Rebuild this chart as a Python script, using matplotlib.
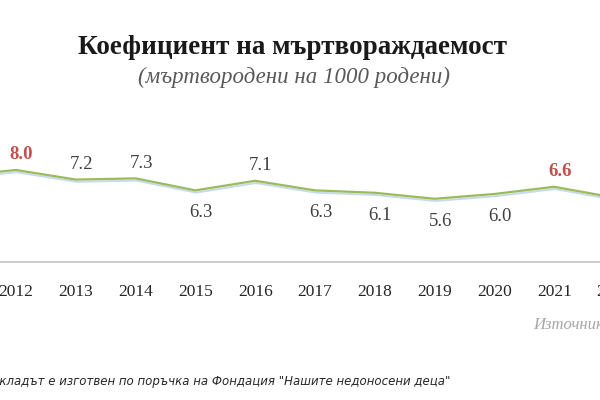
import numpy as np
import matplotlib.pyplot as plt
import matplotlib.patheffects as pe

# Data (2011 and 2022 are cut off by the crop)
years = [2011, 2012, 2013, 2014, 2015, 2016, 2017, 2018, 2019, 2020, 2021, 2022]
rate = [7.5, 8.0, 7.2, 7.3, 6.3, 7.1, 6.3, 6.1, 5.6, 6.0, 6.6, 5.7]
label_side = ['up', 'up', 'up', 'up', 'down', 'up', 'down', 'down', 'down', 'down', 'up', 'down']
red_years = [2012, 2021]

title = 'Коефициент на мъртвораждаемост'
subtitle = '(мъртвородени на 1000 родени)'
source = 'Източник: НСИ'
footer = 'Докладът е изготвен по поръчка на Фондация "Нашите недоносени деца"'

serif = ['Liberation Serif', 'DejaVu Serif']

fig = plt.figure(figsize=(6, 4), dpi=100)
# the reference is a crop, so the axes run past both figure edges
ax = fig.add_axes([-0.1, 0.345, 1.2, 0.405])
ax.set_xlim(2010.729, 2022.769)
ax.set_ylim(0.333, 13.83)

ax.plot(years, rate, color='#9BBB59', lw=1.6, solid_capstyle='round',
        path_effects=[pe.SimpleLineShadow(offset=(0.5, -1.6), shadow_color='#c6d9f0', alpha=1.0, linewidth=1.4),
                      pe.Normal()])

for y, v, side in zip(years, rate, label_side):
    col = '#C0504D' if y in red_years else '#404040'
    dy = 11 if side == 'up' else -16
    ax.annotate(f'{v:.1f}', (y, v), xytext=(4, dy), textcoords='offset points',
                ha='center', va='center',
                fontsize=13.5, color=col, family=serif,
                fontweight='bold' if y in red_years else 'normal')

for s in ['top', 'left', 'right']:
    ax.spines[s].set_visible(False)
ax.spines['bottom'].set_color('#c8c8c8')
ax.spines['bottom'].set_linewidth(1.3)
ax.set_yticks([])
ax.set_xticks(years)
ax.set_xticklabels([str(y) for y in years], family=serif, fontsize=12.5, color='#262626')
ax.tick_params(axis='x', length=0, pad=16)

fig.text(0.488, 0.882, title, ha='center', va='center', fontsize=19.5,
         fontweight='bold', family=serif, color='#1a1a1a')
fig.text(0.49, 0.807, subtitle, ha='center', va='center', fontsize=16.5,
         style='italic', family=serif, color='#595959')
fig.text(0.888, 0.187, source, ha='left', va='center', fontsize=12,
         style='italic', family=serif, color='#a6a6a6')
fig.text(0.752, 0.047, footer, ha='right', va='center', fontsize=8.5,
         style='italic', family=['DejaVu Sans'], color='#262626')

fig.savefig('out.png', dpi=100)
